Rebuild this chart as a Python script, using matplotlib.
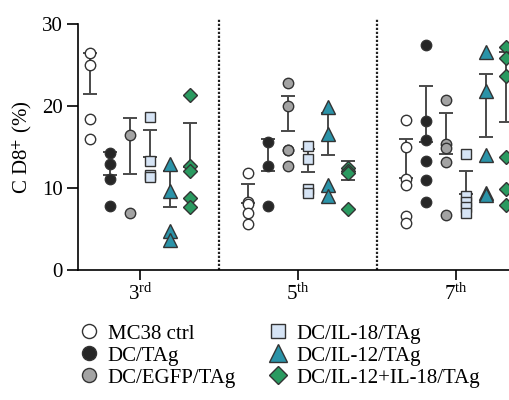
import numpy as np
import matplotlib
matplotlib.use("Agg")
import matplotlib.pyplot as plt
from matplotlib.lines import Line2D

plt.rcParams['font.family'] = ['Liberation Serif', 'DejaVu Serif']
plt.rcParams['mathtext.fontset'] = 'stix'

# days after immunisation (x groups)
groups = [r"$\mathregular{3^{rd}}$", r"$\mathregular{5^{th}}$", r"$\mathregular{7^{th}}$"]
series = ["MC38 ctrl", "DC/TAg", "DC/EGFP/TAg",
          "DC/IL-18/TAg", "DC/IL-12/TAg", "DC/IL-12+IL-18/TAg"]

# CD8+ (%) per group
mc38 = [[26.4, 25.0, 18.4, 16.0], [11.8, 8.3, 8.0, 6.9, 5.6],
        [18.3, 15.0, 11.1, 10.3, 6.5, 5.7]]
dc_tag = [[14.3, 12.9, 11.1, 7.8], [15.6, 12.6, 7.8],
          [27.4, 18.2, 15.8, 13.3, 10.9, 8.2]]
dc_egfp = [[16.5, 6.9], [22.8, 20.0, 14.6, 14.6, 12.6],
           [20.7, 15.3, 14.8, 13.1, 6.7]]
dc_il18 = [[18.6, 13.3, 11.6, 11.3], [15.1, 13.5, 9.9, 9.3],
           [14.1, 9.0, 8.3, 7.6, 6.9]]
dc_il12 = [[12.9, 9.6, 4.7, 3.6], [19.9, 16.6, 10.3, 9.0],
           [26.6, 21.8, 14.0, 9.4, 9.1]]
dc_il12_18 = [[21.3, 12.6, 12.1, 8.8, 7.6], [12.4, 12.0, 11.8, 7.4],
              [27.2, 25.8, 23.6, 13.8, 9.9, 7.9]]

data = [mc38, dc_tag, dc_egfp, dc_il18, dc_il12, dc_il12_18]
markers = ['o', 'o', 'o', 's', '^', 'D']
colors = ['#ffffff', '#262626', '#a3a3a3', '#d6e4f5', '#2b93a8', '#2a9a60']
msizes = [7.5, 7.5, 7.5, 7.5, 9.5, 7.0]

fig = plt.figure(figsize=(5.1, 4.0), dpi=100)
ax = fig.add_axes([0.153, 0.326, 0.847, 0.614])

step = 0.127
for i, (vals, m, c, ms) in enumerate(zip(data, markers, colors, msizes)):
    for g, v in enumerate(vals):
        x = g + (i - 2.5) * step
        v = np.array(v)
        mean, sd = v.mean(), v.std(ddof=1)
        ax.errorbar([x], [mean], yerr=[[0], [sd]], fmt='none', ecolor='#4a4a4a',
                    elinewidth=1.4, capsize=5, capthick=1.4, zorder=2)
        ax.plot(np.full(len(v), x), v, ls='none', marker=m, ms=ms, mfc=c,
                mec='#333333', mew=1.0, zorder=3)

for g in range(len(groups) - 1):
    ax.axvline(g + 0.5, ymin=0, ymax=1.025, color='#222222', lw=1.6,
               ls=(0, (1, 0.8)), clip_on=False, zorder=1)

ax.set_xlim(-0.392, 2.342)
ax.set_ylim(0, 30)
ax.set_yticks([0, 10, 20, 30])
ax.set_xticks(range(len(groups)))
ax.set_xticklabels(groups)
ax.set_ylabel(r"C D8$^{+}$ (%)", fontsize=15, labelpad=6)
ax.tick_params(axis='y', length=8, width=1.2, labelsize=15, pad=3)
ax.tick_params(axis='x', length=7, width=1.2, labelsize=15, pad=3)
for s in ['top', 'right']:
    ax.spines[s].set_visible(False)
for s in ['left', 'bottom']:
    ax.spines[s].set_linewidth(1.2)

handles = [Line2D([], [], ls='none', marker=m, ms=ms * 1.35, mfc=c,
                  mec='#333333', mew=1.0)
           for m, c, ms in zip(markers, colors, msizes)]
fig.legend(handles, series, ncol=2, frameon=False, fontsize=15,
           loc='upper left', bbox_to_anchor=(0.15, 0.19),
           handletextpad=0.3, columnspacing=1.4, labelspacing=0.12,
           borderaxespad=0, borderpad=0, handlelength=1.2)

fig.savefig("out.png", dpi=100)
